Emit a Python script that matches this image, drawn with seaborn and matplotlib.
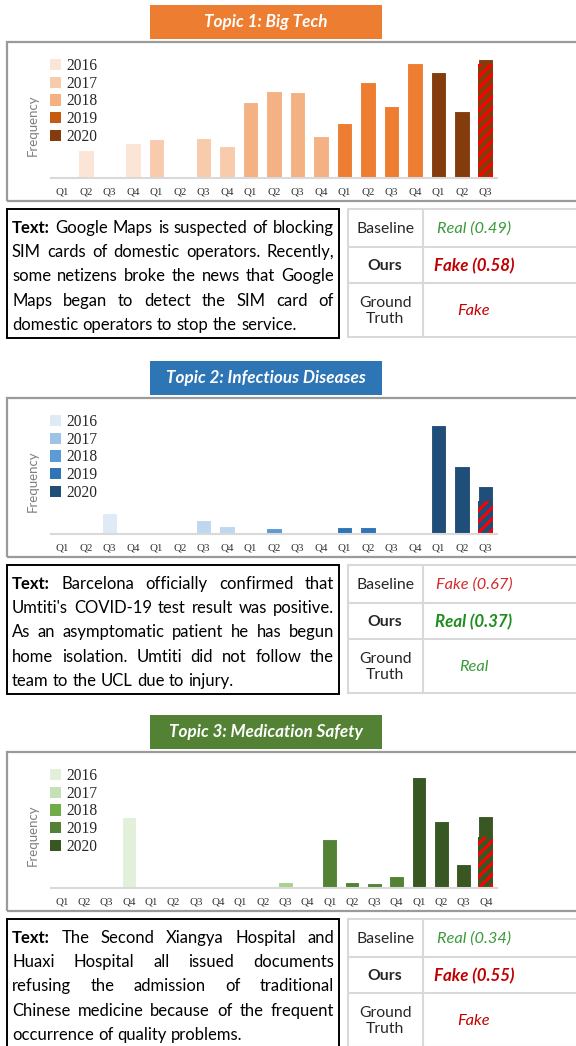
import matplotlib

matplotlib.use("Agg")
import matplotlib.pyplot as plt
import pandas as pd
import seaborn as sns
from matplotlib.patches import Patch, Rectangle

"""
Case study figure: topic frequency per quarter + example news with predictions
"""

FIG_W, FIG_H = 576, 1046
SANS = "Lato"
SERIF = "Liberation Serif"
GREEN, GREEN_BOLD, RED = "#3a9a3a", "#1e8c1e", "#c00000"

LEGEND_YEARS = ["2016", "2017", "2018", "2019", "2020"]
ROW_NAMES = ["Baseline", "Ours", "Ground\nTruth"]

# ---- Topic 1 ----
t1_title = "Topic 1: Big Tech"
t1_years = ["2016", "2016", "2016", "2016", "2017", "2017", "2017", "2017", "2018", "2018",
            "2018", "2018", "2019", "2019", "2019", "2019", "2020", "2020", "2020"]
t1_quarters = ["Q1", "Q2", "Q3", "Q4", "Q1", "Q2", "Q3", "Q4", "Q1", "Q2",
               "Q3", "Q4", "Q1", "Q2", "Q3", "Q4", "Q1", "Q2", "Q3"]
t1_freq = [0, 28, 0, 35, 39, 0, 40, 32, 76, 87, 86, 42, 55, 96, 72, 115, 106, 67, 119]
t1_fake = 114
t1_text = ["Google Maps is suspected of blocking",
           "SIM cards of domestic operators. Recently,",
           "some netizens broke the news that Google",
           "Maps began to detect the SIM card of",
           "domestic operators to stop the service."]
t1_preds = ["Real (0.49)", "Fake (0.58)", "Fake"]

# ---- Topic 2 ----
t2_title = "Topic 2: Infectious Diseases"
t2_years = t1_years
t2_quarters = t1_quarters
t2_freq = [0, 0, 21, 0, 0, 0, 14, 8, 0, 6, 0, 0, 7, 7, 0, 0, 109, 68, 48]
t2_fake = 33
t2_text = ["Barcelona officially confirmed that",
           "Umtiti's COVID-19 test result was positive.",
           "As an asymptomatic patient he has begun",
           "home isolation. Umtiti did not follow the",
           "team to the UCL due to injury."]
t2_preds = ["Fake (0.67)", "Real (0.37)", "Real"]

# ---- Topic 3 ----
t3_title = "Topic 3: Medication Safety"
t3_years = ["2016", "2016", "2016", "2016", "2017", "2017", "2017", "2017", "2018", "2018",
            "2018", "2018", "2019", "2019", "2019", "2019", "2020", "2020", "2020", "2020"]
t3_quarters = ["Q1", "Q2", "Q3", "Q4", "Q1", "Q2", "Q3", "Q4", "Q1", "Q2",
               "Q3", "Q4", "Q1", "Q2", "Q3", "Q4", "Q1", "Q2", "Q3", "Q4"]
t3_freq = [0, 0, 0, 71, 0, 0, 0, 0, 0, 0, 6, 0, 49, 6, 5, 12, 111, 67, 24, 72]
t3_fake = 51
t3_text = ["The Second Xiangya Hospital and",
           "Huaxi Hospital all issued documents",
           "refusing the admission of traditional",
           "Chinese medicine because of the frequent",
           "occurrence of quality problems."]
t3_preds = ["Real (0.34)", "Fake (0.55)", "Fake"]

TOPICS = [
    dict(title=t1_title, years=t1_years, quarters=t1_quarters, freq=t1_freq, fake=t1_fake,
         text=t1_text, preds=t1_preds, top=5, head="#ed7d31",
         bars=["#fbe5d6", "#f8cbad", "#f4b183", "#ed7d31", "#843c0c"],
         legend=["#fbe5d6", "#f8cbad", "#f4b183", "#c55a11", "#843c0c"]),
    dict(title=t2_title, years=t2_years, quarters=t2_quarters, freq=t2_freq, fake=t2_fake,
         text=t2_text, preds=t2_preds, top=361, head="#2e75b6",
         bars=["#deebf7", "#bdd7ee", "#5b9bd5", "#2e75b6", "#1f4e79"],
         legend=["#deebf7", "#9dc3e6", "#5b9bd5", "#2e75b6", "#1f4e79"]),
    dict(title=t3_title, years=t3_years, quarters=t3_quarters, freq=t3_freq, fake=t3_fake,
         text=t3_text, preds=t3_preds, top=715, head="#548235",
         bars=["#e2f0d9", "#c5e0b4", "#a9d18e", "#548235", "#385723"],
         legend=["#e2f0d9", "#c5e0b4", "#70ad47", "#548235", "#385723"]),
]


def fx(x):
    return x / FIG_W


def fy(y):
    return 1 - y / FIG_H


def box(fig, x0, y0, x1, y1, **kw):
    fig.add_artist(Rectangle((fx(x0), fy(y1)), fx(x1) - fx(x0), fy(y0) - fy(y1),
                             transform=fig.transFigure, **kw))


def line(fig, x0, y0, x1, y1, **kw):
    fig.add_artist(plt.Line2D([fx(x0), fx(x1)], [fy(y0), fy(y1)], transform=fig.transFigure, **kw))


def justified(fig, lines, x0, x1, y, step, size):
    r = fig.canvas.get_renderer()
    probe = fig.text(0, 0, "x x", fontsize=size, family=SANS)
    probe2 = fig.text(0, 0, "xx", fontsize=size, family=SANS)
    space = probe.get_window_extent(r).width - probe2.get_window_extent(r).width
    probe.remove()
    probe2.remove()
    for i, ln in enumerate(lines):
        words = ln.split()
        weights = ["normal"] * len(words)
        if i == 0:
            words = ["Text:"] + words
            weights = ["bold"] + weights
        texts = [fig.text(0, 0, w, fontsize=size, fontweight=wt, family=SANS, color="black", va="center")
                 for w, wt in zip(words, weights)]
        widths = [t.get_window_extent(r).width for t in texts]
        gap = space
        if i < len(lines) - 1:
            gap = (x1 - x0 - sum(widths)) / (len(words) - 1)
        x = x0
        for t, w in zip(texts, widths):
            t.set_position((fx(x), fy(y + i * step)))
            x += w + gap


def draw_topic(fig, t):
    top = t["top"]
    palette = dict(zip(LEGEND_YEARS, t["bars"]))

    # title banner
    box(fig, 150, top, 382, top + 34, facecolor=t["head"], edgecolor="none")
    fig.text(fx(266), fy(top + 17), t["title"], color="white", fontsize=12.3, fontweight="bold",
             fontstyle="italic", family=SANS, ha="center", va="center")

    # chart panel
    box(fig, 7, top + 37, 590, top + 196, facecolor="none", edgecolor="#9a9a9a", linewidth=1.6)

    base = top + 173
    ax = fig.add_axes([fx(51), fy(base), fx(497) - fx(51), fy(base - 124) - fy(base)])
    df = pd.DataFrame({"slot": [f"{y} {q}" for y, q in zip(t["years"], t["quarters"])],
                       "year": t["years"], "freq": t["freq"]})
    sns.barplot(data=df, x="slot", y="freq", hue="year", palette=palette, dodge=False,
                width=0.66, saturation=1, errorbar=None, legend=False, ax=ax, zorder=2)
    n = len(df)
    ax.bar(n - 1, t["fake"], width=0.66, color=t["bars"][-1], edgecolor="red",
           hatch="///", linewidth=0, zorder=3)
    ax.set_xlim(-0.5, n - 0.5)
    ax.set_ylim(0, 124)
    ax.set_xticks(range(n), t["quarters"])
    ax.set_yticks([])
    ax.set_xlabel("")
    ax.set_ylabel("")
    ax.tick_params(axis="x", length=0, pad=7, labelsize=7.8, labelcolor="#303030")
    for lab in ax.get_xticklabels():
        lab.set_family(SERIF)
    for side in ["top", "right", "left"]:
        ax.spines[side].set_visible(False)
    ax.spines["bottom"].set_color("#d9d9d9")
    ax.spines["bottom"].set_linewidth(1.5)
    ax.spines["bottom"].set_zorder(4)
    ax.patch.set_alpha(0)

    handles = [Patch(facecolor=c, edgecolor="none") for c in t["legend"]]
    ax.legend(handles, LEGEND_YEARS, loc="upper left", bbox_to_anchor=(fx(50), fy(top + 53)),
              bbox_transform=fig.transFigure, frameon=False, handlelength=0.72, handleheight=0.72,
              handletextpad=0.35, labelspacing=0.11, borderpad=0, borderaxespad=0,
              prop={"family": SERIF, "size": 11.2})

    fig.text(fx(33), fy(top + 120), "Frequency", rotation=90, color="#7f7f7f", fontsize=9.5,
             family=SANS, ha="center", va="center")

    # text box
    tb = top + 204
    box(fig, 7, tb, 339, top + 333, facecolor="none", edgecolor="black", linewidth=1.4)
    justified(fig, t["text"], 12, 334, tb + 19, 24.2, 12)

    # prediction table
    rows = [tb, top + 242, top + 278, top + 332]
    grid = dict(color="#d9d9d9", linewidth=1.5)
    for y in rows:
        line(fig, 348, y, 580, y, **grid)
    line(fig, 348, rows[0], 348, rows[-1], **grid)
    line(fig, 423, rows[0], 423, rows[-1], **grid)
    for i, (name, pred) in enumerate(zip(ROW_NAMES, t["preds"])):
        yc = (rows[i] + rows[i + 1]) / 2
        bold = "bold" if i == 1 else "normal"
        fig.text(fx(385), fy(yc + 1), name, fontsize=11.3, fontweight=bold, family=SANS,
                 ha="center", va="center", linespacing=1.1)
        if pred.startswith("Fake"):
            col = RED if i != 0 else "#d42a2a"
        else:
            col = GREEN_BOLD if i == 1 else GREEN
        fig.text(fx(474), fy(yc + 1), pred, fontsize=12.2 if i == 1 else 11.8, fontweight=bold,
                 fontstyle="italic", family=SANS, color=col, ha="center", va="center")


sns.set_theme(context="paper", style="white")
plt.rcParams["font.family"] = [SANS, "DejaVu Sans"]
plt.rcParams["hatch.linewidth"] = 2.2

fig = plt.figure(figsize=(FIG_W / 100, FIG_H / 100), dpi=100)
fig.patch.set_facecolor("white")
for topic in TOPICS:
    draw_topic(fig, topic)

fig.savefig("out.png", dpi=100)
